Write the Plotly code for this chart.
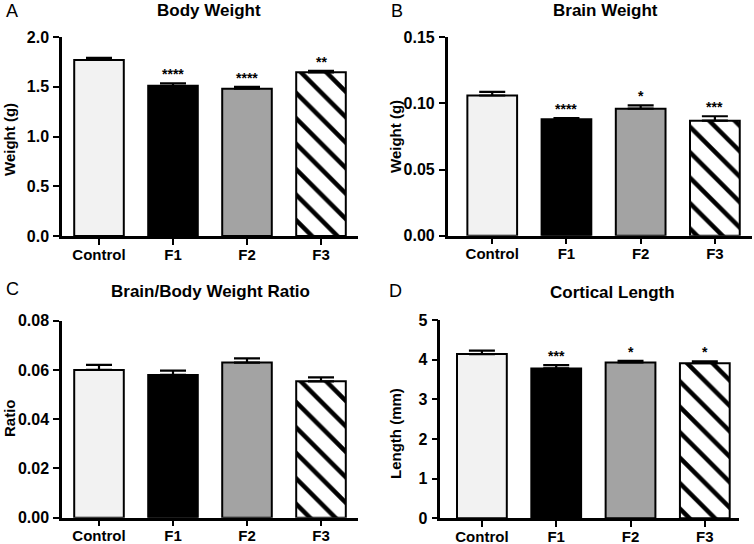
import plotly.graph_objects as go

W, H = 754, 544

categories = ["Control", "F1", "F2", "F3"]

body_weight = [1.77, 1.51, 1.48, 1.645]
body_weight_err = [0.02, 0.025, 0.02, 0.015]
body_weight_sig = ["", "****", "****", "**"]

brain_weight = [0.106, 0.088, 0.096, 0.087]
brain_weight_err = [0.0028, 0.001, 0.0025, 0.0033]
brain_weight_sig = ["", "****", "*", "***"]

ratio = [0.060, 0.058, 0.063, 0.0554]
ratio_err = [0.0021, 0.0017, 0.0017, 0.0016]
ratio_sig = ["", "", "", ""]

cortical_length = [4.14, 3.78, 3.93, 3.91]
cortical_length_err = [0.09, 0.08, 0.04, 0.05]
cortical_length_sig = ["", "***", "*", "*"]

fills = ["#f2f2f2", "#000000", "#a3a3a3", "#ffffff"]

FONT = "Liberation Sans, Arial, Helvetica, sans-serif"


def px_x(v):
    return v / W


def px_y(v):
    return 1 - v / H


panels = [
    dict(letter="A", title="Body Weight", ytitle="Weight (g)",
         vals=body_weight, err=body_weight_err, sig=body_weight_sig,
         xd=(62, 358), yd=(236, 37), xr=[-0.5, 3.5], yr=[0, 2.0],
         tick0=0, dtick=0.5, fmt=".1f",
         letter_pos=(4, 11), title_pos=(209, 10), ytitle_pos=(9, 140)),
    dict(letter="B", title="Brain Weight", ytitle="Weight (g)",
         vals=brain_weight, err=brain_weight_err, sig=brain_weight_sig,
         xd=(447.7, 752), yd=(235.7, 37.3), xr=[-0.6, 3.5], yr=[0, 0.15],
         tick0=0, dtick=0.05, fmt=".2f",
         letter_pos=(389, 11), title_pos=(605, 10), ytitle_pos=(395, 137)),
    dict(letter="C", title="Brain/Body Weight Ratio", ytitle="Ratio",
         vals=ratio, err=ratio_err, sig=ratio_sig,
         xd=(62, 358), yd=(517.7, 320.7), xr=[-0.5, 3.5], yr=[0, 0.08],
         tick0=0, dtick=0.02, fmt=".2f",
         letter_pos=(4, 289), title_pos=(210, 291), ytitle_pos=(9, 418)),
    dict(letter="D", title="Cortical Length", ytitle="Length (mm)",
         vals=cortical_length, err=cortical_length_err, sig=cortical_length_sig,
         xd=(440.3, 739), yd=(518.3, 320), xr=[-0.56, 3.46], yr=[0, 5],
         tick0=0, dtick=1, fmt="d",
         letter_pos=(387, 291), title_pos=(612, 292), ytitle_pos=(395, 434)),
]

fig = go.Figure()
annotations = []
layout_axes = {}

for i, p in enumerate(panels):
    n = i + 1
    xa = "x" if n == 1 else f"x{n}"
    ya = "y" if n == 1 else f"y{n}"
    # solid bars (Control, F1, F2)
    fig.add_trace(go.Bar(
        x=categories[:3], y=p["vals"][:3], xaxis=xa, yaxis=ya,
        width=0.67,
        marker=dict(color=fills[:3], line=dict(color="black", width=2)),
        error_y=dict(type="data", array=p["err"][:3], arrayminus=[0] * 3,
                     symmetric=False, color="black", thickness=2.2, width=13),
        showlegend=False, hoverinfo="skip",
    ))
    # hatched bar (F3)
    fig.add_trace(go.Bar(
        x=categories[3:], y=p["vals"][3:], xaxis=xa, yaxis=ya,
        width=0.67,
        marker=dict(color=fills[3], line=dict(color="black", width=2),
                    pattern=dict(shape="\\", fgcolor="black", fgopacity=1,
                                 size=18, solidity=0.25, fillmode="overlay")),
        error_y=dict(type="data", array=p["err"][3:], arrayminus=[0],
                     symmetric=False, color="black", thickness=2.2, width=13),
        showlegend=False, hoverinfo="skip",
    ))
    axis_common = dict(showline=True, linecolor="black", linewidth=2.5,
                       ticks="outside", ticklen=6, tickwidth=2.2, tickcolor="black",
                       showgrid=False, zeroline=False, automargin=False)
    layout_axes["xaxis" if n == 1 else f"xaxis{n}"] = dict(
        axis_common, domain=[px_x(p["xd"][0]), px_x(p["xd"][1])],
        range=p["xr"], anchor=ya, type="category", ticklabelstandoff=-3,
        tickfont=dict(family=FONT, size=15, color="black", weight="bold"))
    layout_axes["yaxis" if n == 1 else f"yaxis{n}"] = dict(
        axis_common, domain=[px_y(p["yd"][0]), px_y(p["yd"][1])],
        range=p["yr"], anchor=xa, tick0=p["tick0"], dtick=p["dtick"],
        tickformat=p["fmt"], ticklabelstandoff=1,
        tickfont=dict(family=FONT, size=16, color="black", weight="bold"))

    annotations.append(dict(text=p["letter"], x=px_x(p["letter_pos"][0]),
                            y=px_y(p["letter_pos"][1]), xref="paper", yref="paper",
                            xanchor="left", yanchor="middle", showarrow=False,
                            font=dict(family=FONT, size=18, color="black")))
    annotations.append(dict(text=p["title"], x=px_x(p["title_pos"][0]),
                            y=px_y(p["title_pos"][1]), xref="paper", yref="paper",
                            xanchor="center", yanchor="middle", showarrow=False,
                            font=dict(family=FONT, size=17, color="black", weight="bold")))
    annotations.append(dict(text=p["ytitle"], x=px_x(p["ytitle_pos"][0]),
                            y=px_y(p["ytitle_pos"][1]), xref="paper", yref="paper",
                            xanchor="center", yanchor="middle", showarrow=False,
                            textangle=-90,
                            font=dict(family=FONT, size=15, color="black", weight="bold")))
    for c, v, e, s in zip(categories, p["vals"], p["err"], p["sig"]):
        if s:
            annotations.append(dict(text=s, x=c, y=v + e, xref=xa, yref=ya,
                                    xanchor="center", yanchor="bottom", showarrow=False,
                                    yshift=-1,
                                    font=dict(family=FONT, size=14, color="black", weight="bold")))

fig.update_layout(
    template="none",
    width=W, height=H,
    margin=dict(l=0, r=0, t=0, b=0, autoexpand=False),
    paper_bgcolor="white", plot_bgcolor="white",
    barmode="overlay",
    annotations=annotations,
    **layout_axes,
)

fig.write_html("out.html", config={"displayModeBar": False},
               post_script="document.body.style.margin='0';")
